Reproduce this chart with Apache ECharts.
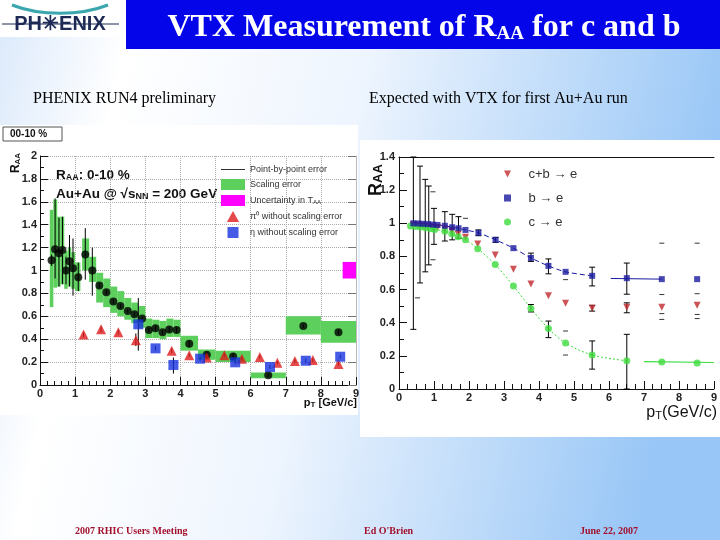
<!DOCTYPE html>
<html>
<head>
<meta charset="utf-8">
<script src="https://cdn.jsdelivr.net/npm/echarts@6/dist/echarts.min.js"></script>
<style>
html, body { margin: 0; padding: 0; }
#chart { width: 720px; height: 540px; }
</style>
</head>
<body>
<div id="chart"></div>
<script>
// ---- left panel: PHENIX Run4 pi0 / eta RAA, 0-10 % ----
const pi0Pt  = [0.33,0.43,0.54,0.64,0.74,0.84,0.94,1.09,1.29,1.49,1.69,1.89,2.09,2.29,2.50,2.69,2.91,3.10,3.29,3.49,3.68,3.89,4.25,4.75,5.50,6.50,7.50,8.50];
const pi0Raa = [1.09,1.185,1.15,1.18,1.00,1.08,1.02,0.94,1.14,1.00,0.87,0.81,0.73,0.69,0.646,0.617,0.58,0.48,0.495,0.46,0.485,0.48,0.36,0.265,0.25,0.085,0.515,0.46];
const pi0ErrLo = [1.04,0.93,0.86,0.88,0.88,0.86,0.78,0.82,0.92,0.78,0.85,0.79,0.71,0.67,0.63,0.60,0.56,0.46,0.47,0.44,0.46,0.455,0.33,0.24,0.22,0.07,0.50,0.44];
const pi0ErrHi = [1.14,1.63,1.46,1.47,1.12,1.31,1.28,1.07,1.37,1.20,0.89,0.83,0.75,0.71,0.66,0.635,0.60,0.50,0.52,0.48,0.51,0.505,0.39,0.29,0.28,0.10,0.53,0.48];

// scaling error boxes (pT range, RAA range)
const bandX0 = [0.28,0.38,0.49,0.59,0.69,0.79,0.89,1.00,1.20,1.40,1.60,1.80,2.00,2.20,2.40,2.60,2.80,3.00,3.20,3.40,3.60,3.80,4.00,4.50,5.00,6.00,7.00,8.00];
const bandX1 = [0.38,0.49,0.59,0.69,0.79,0.89,1.00,1.15,1.40,1.60,1.80,2.00,2.20,2.40,2.60,2.80,3.00,3.20,3.40,3.60,3.80,4.00,4.50,5.00,6.00,7.00,8.00,9.00];
const bandLo = [0.68,0.85,0.86,0.88,0.84,0.86,0.84,0.82,1.00,0.90,0.72,0.68,0.63,0.60,0.57,0.54,0.50,0.41,0.41,0.40,0.42,0.42,0.30,0.22,0.20,0.06,0.44,0.37];
const bandHi = [1.53,1.62,1.47,1.47,1.17,1.20,1.16,1.07,1.28,1.12,0.98,0.93,0.86,0.82,0.76,0.72,0.69,0.58,0.57,0.56,0.58,0.57,0.43,0.31,0.30,0.11,0.60,0.56];

const taaBox = [8.62, 9.0, 0.93, 1.075];

const redPt  = [1.24,1.74,2.23,2.73,3.75,4.25,4.75,5.25,5.75,6.26,6.76,7.26,7.77,8.50];
const redRaa = [0.44,0.486,0.46,0.39,0.30,0.26,0.24,0.26,0.23,0.245,0.195,0.21,0.218,0.183];
const redErrLo = [0.42,0.46,0.44,0.34,0.28,0.245,0.225,0.245,0.215,0.23,0.18,0.195,0.20,0.17];
const redErrHi = [0.46,0.51,0.48,0.45,0.32,0.275,0.255,0.275,0.245,0.26,0.21,0.225,0.235,0.20];

const etaPt  = [2.80,3.29,3.80,4.56,5.56,6.55,7.57,8.55];
const etaRaa = [0.53,0.32,0.175,0.23,0.198,0.157,0.212,0.247];
const etaErrLo = [0.30,0.30,0.10,0.21,0.18,0.14,0.195,0.23];
const etaErrHi = [0.76,0.34,0.24,0.245,0.215,0.175,0.23,0.265];

// ---- right panel: expected with VTX ----
const cbPt  = [0.41,0.55,0.69,0.83,0.97,1.10,1.31,1.51,1.69,1.90,2.25,2.75,3.27,3.77,4.27,4.76,5.52,6.51,7.51,8.52];
const cbRaa = [0.99,0.988,0.985,0.982,0.978,0.975,0.967,0.955,0.935,0.916,0.875,0.809,0.723,0.634,0.562,0.518,0.488,0.494,0.494,0.506];
const bPt  = [0.41,0.55,0.69,0.83,0.97,1.10,1.31,1.52,1.70,1.90,2.27,2.76,3.27,3.77,4.27,4.76,5.52,6.51,7.51,8.52];
const bRaa = [1.0,0.999,0.997,0.995,0.992,0.99,0.985,0.976,0.97,0.96,0.942,0.90,0.85,0.791,0.743,0.707,0.683,0.669,0.663,0.663];
const cPt  = [0.33,0.47,0.61,0.76,0.90,1.02,1.31,1.51,1.69,1.90,2.25,2.75,3.27,3.77,4.27,4.76,5.52,6.51,7.51,8.52];
const cRaa = [0.984,0.98,0.977,0.973,0.967,0.963,0.952,0.937,0.919,0.90,0.847,0.751,0.622,0.486,0.365,0.277,0.205,0.17,0.163,0.157];

// flat parts of the curves at high pT
const bFlatPt = [6.05, 7.5];
const bFlatRaa = [0.667, 0.663];
const cFlatPt = [7.0, 9.0];
const cFlatRaa = [0.165, 0.16];

// projected error bars
const vtxErrPt = [0.41,0.60,0.75,0.85,1.00,1.31,1.52,1.70,2.27,2.76,3.77,3.77,4.27,4.27,5.52,5.52,5.52,6.51,6.51,6.51];
const vtxErrLo = [0.36,0.64,0.707,0.749,0.873,0.893,0.90,0.91,0.925,0.885,0.77,0.465,0.695,0.31,0.622,0.47,0.12,0.572,0.46,0.0];
const vtxErrHi = [1.40,1.345,1.265,1.225,1.09,1.07,1.054,1.04,0.96,0.915,0.82,0.51,0.785,0.41,0.735,0.505,0.29,0.76,0.52,0.33];

// stray caps
const capPt  = [0.53,0.97,0.97,1.90,4.76,4.76,4.76,7.51,7.51,7.51,7.51,8.52,8.52,8.52,8.52];
const capRaa = [0.55,1.19,0.78,1.03,0.66,0.35,0.205,0.88,0.57,0.455,0.42,0.88,0.575,0.45,0.425];

const zip = (...arrs) => arrs[0].map((_, i) => arrs.map(a => a[i]));

// vertical error bar, optional caps
function errBar(cap) {
  return function (params, api) {
    const x = api.value(0);
    const lo = api.coord([x, api.value(1)]);
    const hi = api.coord([x, api.value(2)]);
    const st = { stroke: '#000', lineWidth: 1 };
    const kids = [{ type: 'line', shape: { x1: lo[0], y1: lo[1], x2: hi[0], y2: hi[1] }, style: st }];
    if (cap) {
      kids.push({ type: 'line', shape: { x1: lo[0] - 3, y1: lo[1], x2: lo[0] + 3, y2: lo[1] }, style: st });
      kids.push({ type: 'line', shape: { x1: hi[0] - 3, y1: hi[1], x2: hi[0] + 3, y2: hi[1] }, style: st });
    }
    return { type: 'group', children: kids };
  };
}

// filled box from [x0, x1, y0, y1]
function boxItem(params, api) {
  const p0 = api.coord([api.value(0), api.value(3)]);
  const p1 = api.coord([api.value(1), api.value(2)]);
  return {
    type: 'rect',
    shape: { x: p0[0], y: p0[1], width: p1[0] - p0[0], height: p1[1] - p0[1] },
    style: { fill: api.visual('color') }
  };
}

const SANS = 'Liberation Sans, Arial, sans-serif';
const SERIF = 'Liberation Serif, Times New Roman, serif';

const axisLbl = { fontFamily: SANS, fontSize: 11, fontWeight: 'bold', color: '#222' };

const chart = echarts.init(document.getElementById('chart'));

const option = {
  animation: false,
  graphic: [
    { type: 'rect', z: -100, shape: { x: 0, y: 0, width: 720, height: 540 },
      style: { fill: new echarts.graphic.LinearGradient(0, 0, 1, 0.3, [
        { offset: 0, color: '#dbe9fb' }, { offset: 0.18, color: '#ffffff' },
        { offset: 0.5, color: '#eef5fe' }, { offset: 1, color: '#98c6f6' }]) } },
    { type: 'rect', z: -90, shape: { x: 0, y: 125, width: 358, height: 290 }, style: { fill: '#fff' } },
    { type: 'rect', z: -90, shape: { x: 360, y: 140, width: 360, height: 297 }, style: { fill: '#fff' } },
    // title bar
    { type: 'rect', z: -50, shape: { x: 126, y: 0, width: 594, height: 49 }, style: { fill: '#0505ea' } },
    { type: 'text', x: 424, y: 26, z: 10,
      style: { text: '{t|VTX Measurement of R}{s|AA}{t| for c and b}', textAlign: 'center', textVerticalAlign: 'middle',
        rich: { t: { fontFamily: SERIF, fontWeight: 'bold', fontSize: 32, fill: '#fff', lineHeight: 35, verticalAlign: 'bottom' },
                s: { fontFamily: SERIF, fontWeight: 'bold', fontSize: 19, fill: '#fff', lineHeight: 20, verticalAlign: 'bottom' } } } },
    // logo
    { type: 'rect', z: -50, shape: { x: 0, y: 0, width: 121, height: 37 }, style: { fill: '#fff' } },
    { type: 'bezierCurve', z: 10, shape: { x1: 12, y1: 5, cpx1: 40, cpy1: 16, cpx2: 80, cpy2: 16, x2: 108, y2: 5 },
      style: { stroke: '#3aa6ae', lineWidth: 3, fill: null } },
    { type: 'line', z: 10, shape: { x1: 2, y1: 24, x2: 119, y2: 24 }, style: { stroke: '#1c2a55', lineWidth: 1 } },
    { type: 'text', x: 60, y: 24, z: 11,
      style: { text: 'PH\u2733ENIX', textAlign: 'center', textVerticalAlign: 'middle',
        font: 'bold 20px ' + SANS, fill: '#1c2a55' } },
    // subtitles
    { type: 'text', x: 33, y: 99, style: { text: 'PHENIX RUN4 preliminary', textVerticalAlign: 'middle', font: '16px ' + SERIF, fill: '#000' } },
    { type: 'text', x: 369, y: 99, style: { text: 'Expected with VTX for first Au+Au run', textVerticalAlign: 'middle', font: '16px ' + SERIF, fill: '#000' } },
    // footer
    { type: 'text', x: 75, y: 531, style: { text: '2007 RHIC Users Meeting', textVerticalAlign: 'middle', font: 'bold 10px ' + SERIF, fill: '#a3102c' } },
    { type: 'text', x: 364, y: 531, style: { text: "Ed O'Brien", textVerticalAlign: 'middle', font: 'bold 10px ' + SERIF, fill: '#a3102c' } },
    { type: 'text', x: 580, y: 531, style: { text: 'June 22, 2007', textVerticalAlign: 'middle', font: 'bold 10px ' + SERIF, fill: '#a3102c' } },
    // left panel labels
    { type: 'rect', shape: { x: 3, y: 127, width: 59, height: 14 }, style: { fill: '#fff', stroke: '#555', lineWidth: 1 } },
    { type: 'text', x: 10, y: 134, style: { text: '00-10 %', textVerticalAlign: 'middle', font: 'bold 10px ' + SANS, fill: '#111' } },
    { type: 'text', x: 16, y: 163, rotation: Math.PI / 2,
      style: { text: '{r|R}{s|AA}', textAlign: 'center', textVerticalAlign: 'middle',
        rich: { r: { fontFamily: SANS, fontWeight: 'bold', fontSize: 12, fill: '#111', verticalAlign: 'bottom' },
                s: { fontFamily: SANS, fontWeight: 'bold', fontSize: 8, fill: '#111', verticalAlign: 'bottom' } } } },
    { type: 'text', x: 56, y: 174,
      style: { text: '{r|R}{s|AA}{r|: 0-10 %}', textVerticalAlign: 'middle',
        rich: { r: { fontFamily: SANS, fontWeight: 'bold', fontSize: 13.5, fill: '#111', verticalAlign: 'bottom', lineHeight: 16 },
                s: { fontFamily: SANS, fontWeight: 'bold', fontSize: 9, fill: '#111', verticalAlign: 'bottom', lineHeight: 10 } } } },
    { type: 'text', x: 56, y: 193,
      style: { text: '{r|Au+Au @ \u221As}{s|NN}{r| = 200 GeV}', textVerticalAlign: 'middle',
        rich: { r: { fontFamily: SANS, fontWeight: 'bold', fontSize: 13.5, fill: '#111', verticalAlign: 'bottom', lineHeight: 16 },
                s: { fontFamily: SANS, fontWeight: 'bold', fontSize: 9, fill: '#111', verticalAlign: 'bottom', lineHeight: 10 } } } },
    { type: 'text', x: 357, y: 402,
      style: { text: '{r|p}{s|T}{r| [GeV/c]}', textAlign: 'right', textVerticalAlign: 'middle',
        rich: { r: { fontFamily: SANS, fontWeight: 'bold', fontSize: 11, fill: '#111', verticalAlign: 'bottom', lineHeight: 13 },
                s: { fontFamily: SANS, fontWeight: 'bold', fontSize: 8, fill: '#111', verticalAlign: 'bottom', lineHeight: 9 } } } },
    // right panel labels
    { type: 'text', x: 375, y: 180, rotation: Math.PI / 2,
      style: { text: '{r|R}{s|AA}', textAlign: 'center', textVerticalAlign: 'middle',
        rich: { r: { fontFamily: SANS, fontWeight: 'bold', fontSize: 18, fill: '#111', verticalAlign: 'bottom', lineHeight: 20 },
                s: { fontFamily: SANS, fontWeight: 'bold', fontSize: 13, fill: '#111', verticalAlign: 'bottom', lineHeight: 14 } } } },
    { type: 'text', x: 717, y: 412,
      style: { text: '{r|p}{s|T}{r|(GeV/c)}', textAlign: 'right', textVerticalAlign: 'middle',
        rich: { r: { fontFamily: SANS, fontSize: 16, fill: '#111', verticalAlign: 'bottom', lineHeight: 18 },
                s: { fontFamily: SANS, fontSize: 11, fill: '#111', verticalAlign: 'bottom', lineHeight: 12 } } } }
  ],
  legend: [
    {
      orient: 'vertical', left: 216, top: 160, itemWidth: 24, itemHeight: 11, itemGap: 5,
      selectedMode: false, symbolKeepAspect: true,
      textStyle: { fontFamily: SANS, fontSize: 9, color: '#333',
        rich: { n: { fontFamily: SANS, fontSize: 9, color: '#333' }, s: { fontFamily: SANS, fontSize: 6, color: '#333', verticalAlign: 'bottom' } } },
      formatter: name => name === 'Uncertainty in T_AA' ? '{n|Uncertainty in T}{s|AA}' : name,
      data: [
        { name: 'Point-by-point error', icon: 'path://M0,0h24v1h-24z', itemStyle: { color: '#333' } },
        { name: 'Scaling error', icon: 'rect' },
        { name: 'Uncertainty in T_AA', icon: 'rect' },
        { name: '\u03C0\u2070 without scaling error', icon: 'path://M5,0L10,9L0,9z' },
        { name: '\u03B7 without scaling error', icon: 'path://M0,0h10v10h-10z' }
      ]
    },
    {
      orient: 'vertical', left: 499, top: 162, itemWidth: 32, itemHeight: 7, itemGap: 10,
      selectedMode: false, symbolKeepAspect: true,
      textStyle: { fontFamily: SANS, fontSize: 13, color: '#333', lineHeight: 14 },
      data: [
        { name: 'c+b \u2192 e', icon: 'path://M0,0L10,0L5,10z' },
        { name: 'b \u2192 e', icon: 'path://M0,0h10v10h-10z' },
        { name: 'c \u2192 e', icon: 'circle' }
      ]
    }
  ],
  grid: [
    { left: 40, top: 156, width: 316, height: 229 },
    { left: 399, top: 157, width: 317, height: 232 }
  ],
  xAxis: [
    { gridIndex: 0, type: 'value', min: 0, max: 9, interval: 1,
      axisLine: { lineStyle: { color: '#111' } },
      axisTick: { inside: true, length: 8, lineStyle: { color: '#111' } },
      minorTick: { show: true, splitNumber: 5, length: 4, lineStyle: { color: '#111' } },
      axisLabel: Object.assign({ margin: 3 }, axisLbl),
      splitLine: { show: true, lineStyle: { color: '#aaa', type: 'dotted' } } },
    { gridIndex: 1, type: 'value', min: 0, max: 9, interval: 1,
      axisLine: { lineStyle: { color: '#111' } },
      axisTick: { inside: true, length: 8, lineStyle: { color: '#111' } },
      minorTick: { show: true, splitNumber: 4, length: 5, lineStyle: { color: '#111' } },
      axisLabel: Object.assign({ margin: 3 }, axisLbl),
      splitLine: { show: false } },
    { gridIndex: 1, type: 'value', min: 0, max: 9, position: 'top',
      axisLine: { onZero: false, lineStyle: { color: '#111' } },
      axisTick: { show: false }, axisLabel: { show: false }, splitLine: { show: false } }
  ],
  yAxis: [
    { gridIndex: 0, type: 'value', min: 0, max: 2, interval: 0.2,
      axisLine: { show: true, lineStyle: { color: '#111' } },
      axisTick: { show: true, inside: true, length: 8, lineStyle: { color: '#111' } },
      minorTick: { show: true, splitNumber: 2, length: 4, lineStyle: { color: '#111' } },
      axisLabel: Object.assign({ margin: 3 }, axisLbl),
      splitLine: { show: true, lineStyle: { color: '#aaa', type: 'dotted' } } },
    { gridIndex: 0, type: 'value', min: 0, max: 2, interval: 0.2, position: 'right',
      axisLine: { show: true, lineStyle: { color: '#bbb' } },
      axisTick: { show: true, inside: true, length: 8, lineStyle: { color: '#777' } },
      axisLabel: { show: false }, splitLine: { show: false } },
    { gridIndex: 1, type: 'value', min: 0, max: 1.4, interval: 0.2,
      axisLine: { show: true, lineStyle: { color: '#111' } },
      axisTick: { show: true, inside: true, length: 8, lineStyle: { color: '#111' } },
      minorTick: { show: true, splitNumber: 2, length: 5, lineStyle: { color: '#111' } },
      axisLabel: Object.assign({ margin: 4 }, axisLbl),
      splitLine: { show: false } }
  ],
  series: [
    // ---- left ----
    { name: 'Scaling error', type: 'custom', xAxisIndex: 0, yAxisIndex: 0, z: 1,
      itemStyle: { color: '#5ccf5c' }, renderItem: boxItem,
      data: zip(bandX0, bandX1, bandLo, bandHi) },
    { name: 'Uncertainty in T_AA', type: 'custom', xAxisIndex: 0, yAxisIndex: 0, z: 1,
      itemStyle: { color: '#ff00ff' }, renderItem: boxItem, data: [taaBox] },
    { name: 'Point-by-point error', type: 'custom', xAxisIndex: 0, yAxisIndex: 0, z: 3,
      itemStyle: { color: '#333' }, renderItem: errBar(false),
      data: zip(pi0Pt, pi0ErrLo, pi0ErrHi) },
    { name: 'Point-by-point error', type: 'custom', xAxisIndex: 0, yAxisIndex: 0, z: 3,
      itemStyle: { color: '#333' }, renderItem: errBar(false),
      data: zip(redPt, redErrLo, redErrHi).concat(zip(etaPt, etaErrLo, etaErrHi)) },
    { name: 'pi0', type: 'scatter', xAxisIndex: 0, yAxisIndex: 0, z: 5,
      symbol: 'circle', symbolSize: 8, itemStyle: { color: '#000' },
      data: zip(pi0Pt, pi0Raa) },
    { name: '\u03C0\u2070 without scaling error', type: 'scatter', xAxisIndex: 0, yAxisIndex: 0, z: 5,
      symbol: 'triangle', symbolSize: 10, itemStyle: { color: '#e01b1b' },
      data: zip(redPt, redRaa) },
    { name: '\u03B7 without scaling error', type: 'scatter', xAxisIndex: 0, yAxisIndex: 0, z: 5,
      symbol: 'rect', symbolSize: 10, itemStyle: { color: '#1632e0' },
      data: zip(etaPt, etaRaa) },
    // ---- right ----
    { name: 'vtxErr', type: 'custom', xAxisIndex: 1, yAxisIndex: 2, z: 3,
      renderItem: errBar(true), data: zip(vtxErrPt, vtxErrLo, vtxErrHi) },
    { name: 'caps', type: 'scatter', xAxisIndex: 1, yAxisIndex: 2, z: 3,
      symbol: 'rect', symbolSize: [5, 1], itemStyle: { color: '#000' },
      data: zip(capPt, capRaa) },
    { name: 'bFit', type: 'line', xAxisIndex: 1, yAxisIndex: 2, z: 2, smooth: 0.3,
      showSymbol: false, lineStyle: { color: '#1a1aa0', width: 1, type: [5, 3] },
      data: zip(bPt.slice(0, 17), bRaa.slice(0, 17)) },
    { name: 'bFlat', type: 'line', xAxisIndex: 1, yAxisIndex: 2, z: 2,
      showSymbol: false, lineStyle: { color: '#1a1aa0', width: 1 },
      data: zip(bFlatPt, bFlatRaa) },
    { name: 'cFit', type: 'line', xAxisIndex: 1, yAxisIndex: 2, z: 2, smooth: 0.3,
      showSymbol: false, lineStyle: { color: '#3ddc3d', width: 1, type: [2, 2] },
      data: zip(cPt.slice(0, 18), cRaa.slice(0, 18)) },
    { name: 'cFlat', type: 'line', xAxisIndex: 1, yAxisIndex: 2, z: 2,
      showSymbol: false, lineStyle: { color: '#3ddc3d', width: 1.2 },
      data: zip(cFlatPt, cFlatRaa) },
    { name: 'c+b \u2192 e', type: 'scatter', xAxisIndex: 1, yAxisIndex: 2, z: 4,
      symbol: 'triangle', symbolRotate: 180, symbolSize: 7, itemStyle: { color: '#c0282d' },
      data: zip(cbPt, cbRaa) },
    { name: 'c \u2192 e', type: 'scatter', xAxisIndex: 1, yAxisIndex: 2, z: 5,
      symbol: 'circle', symbolSize: 7, itemStyle: { color: '#3ddc3d' },
      data: zip(cPt, cRaa) },
    { name: 'b \u2192 e', type: 'scatter', xAxisIndex: 1, yAxisIndex: 2, z: 6,
      symbol: 'rect', symbolSize: 6, itemStyle: { color: '#1a1aa0' },
      data: zip(bPt, bRaa) }
  ]
};

chart.setOption(option);
</script>
</body>
</html>
